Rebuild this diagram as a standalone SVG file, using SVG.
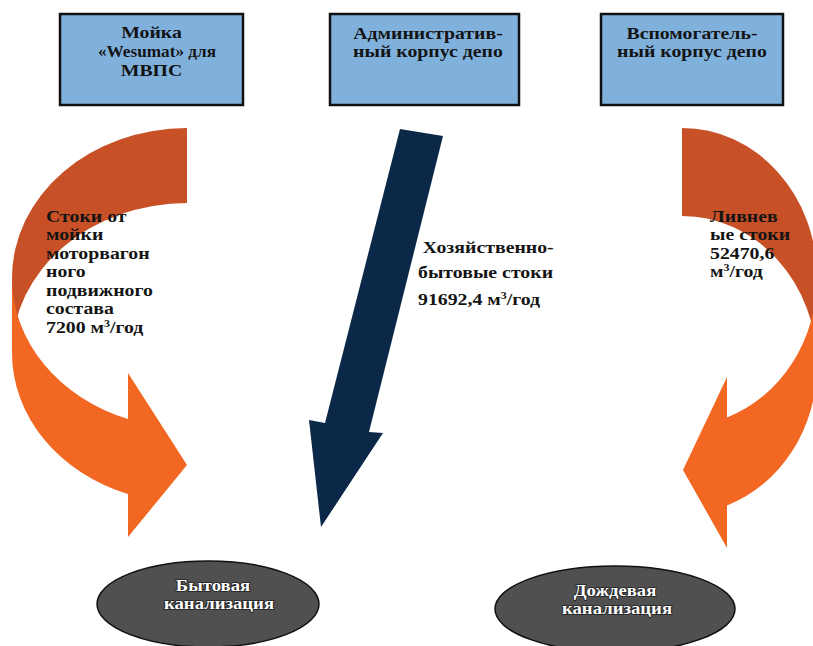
<svg xmlns="http://www.w3.org/2000/svg" width="813" height="646" viewBox="0 0 813 646">
  <style>
    .box { fill: #80b1dc; stroke: #111; stroke-width: 2.5; }
    .lbl { font-family: "Liberation Serif", "Times New Roman", serif; font-weight: bold; font-size: 16.5px; fill: #141414; }
    .ctr { text-anchor: middle; }
    .sup { font-size: 10px; }
    .sink { fill: #505050; stroke: #111; stroke-width: 1.5; }
    .sinklbl { font-family: "Liberation Serif", "Times New Roman", serif; font-weight: bold; font-size: 16px; fill: #ffffff; text-anchor: middle; stroke: #222; stroke-width: 1.6; stroke-linejoin: round; paint-order: stroke; }
    .back { fill: #c85027; }
    .front { fill: #f26722; }
    .navy { fill: #0b2849; }
  </style>

  <!-- source buildings (labels are set slightly wide, as in the printed scheme) -->
  <g id="wash">
    <rect class="box" x="60" y="14" width="183" height="91"/>
    <text class="lbl ctr" transform="translate(151.5,38) scale(1.2,1)">Мойка</text>
    <text class="lbl ctr" transform="translate(157,57)" textLength="118" lengthAdjust="spacingAndGlyphs">«Wesumat» для</text>
    <text class="lbl ctr" transform="translate(151.5,76) scale(1.2,1)">МВПС</text>
  </g>
  <g id="admin">
    <rect class="box" x="330" y="14" width="189" height="91"/>
    <text class="lbl ctr" transform="translate(428,39) scale(1.2,1)">Административ-</text>
    <text class="lbl ctr" transform="translate(428,57) scale(1.2,1)">ный корпус депо</text>
  </g>
  <g id="aux">
    <rect class="box" x="601" y="14" width="182" height="91"/>
    <text class="lbl ctr" transform="translate(692,39) scale(1.2,1)">Вспомогатель-</text>
    <text class="lbl ctr" transform="translate(692,57) scale(1.2,1)">ный корпус депо</text>
  </g>

  <!-- flows -->
  <g id="connectors">
    <!-- curved arrow from the wash -->
    <g id="flow-wash">
      <path class="back" d="M187,128 A175,150 0 0 0 12,278 L12,353 A175,150 0 0 1 187,203 Z"/>
      <path class="front" d="M12,278 A175,150 0 0 0 128,419 L128,373 L187,465 L128,537 L128,494 A175,150 0 0 1 12,353 Z"/>
      <g transform="translate(46,0) scale(1.2,1)">
        <text class="lbl" x="0" y="222">Стоки от</text>
        <text class="lbl" x="0" y="240.5">мойки</text>
        <text class="lbl" x="0" y="259">моторвагон</text>
        <text class="lbl" x="0" y="277.5">ного</text>
        <text class="lbl" x="0" y="296">подвижного</text>
        <text class="lbl" x="0" y="314.5">состава</text>
        <text class="lbl" x="0" y="333">7200 м<tspan class="sup" dy="-6">3</tspan><tspan dy="6">/год</tspan></text>
      </g>
    </g>

    <!-- straight arrow from the administrative building -->
    <g id="flow-admin">
      <polygon class="navy" points="400,129 443,136 369,432 383,433 321,527 309,420 325,423"/>
      <g transform="translate(418,0) scale(1.2,1)">
        <text class="lbl" x="4" y="253">Хозяйственно-</text>
        <text class="lbl" x="0" y="278">бытовые стоки</text>
        <text class="lbl" x="0" y="305">91692,4 м<tspan class="sup" dy="-6">3</tspan><tspan dy="6">/год</tspan></text>
      </g>
    </g>

    <!-- curved arrow from the auxiliary building -->
    <g id="flow-aux">
      <path class="back" d="M682,128 A135,149 0 0 1 817,277 L817,365 A135,149 0 0 0 682,216 Z"/>
      <path class="front" d="M817,277 A135,149 0 0 1 727,417.5 L727,377 L683,470 L727,548 L727,505.5 A135,149 0 0 0 817,365 Z"/>
      <g transform="translate(710,0) scale(1.2,1)">
        <text class="lbl" x="0" y="222">Ливнев</text>
        <text class="lbl" x="0" y="240.5">ые стоки</text>
        <text class="lbl" x="0" y="259">52470,6</text>
        <text class="lbl" x="0" y="277.5">м<tspan class="sup" dy="-6">3</tspan><tspan dy="6">/год</tspan></text>
      </g>
    </g>
  </g>

  <!-- receiving sewers -->
  <g id="domestic-sewer">
    <ellipse class="sink" cx="208" cy="604" rx="111" ry="43"/>
    <text class="sinklbl" transform="translate(213,591) scale(1.17,1)">Бытовая</text>
    <text class="sinklbl" transform="translate(219,609) scale(1.17,1)">канализация</text>
  </g>
  <g id="storm-sewer">
    <ellipse class="sink" cx="615" cy="609" rx="120" ry="43"/>
    <text class="sinklbl" transform="translate(615,596) scale(1.17,1)">Дождевая</text>
    <text class="sinklbl" transform="translate(617,614) scale(1.17,1)">канализация</text>
  </g>
</svg>
